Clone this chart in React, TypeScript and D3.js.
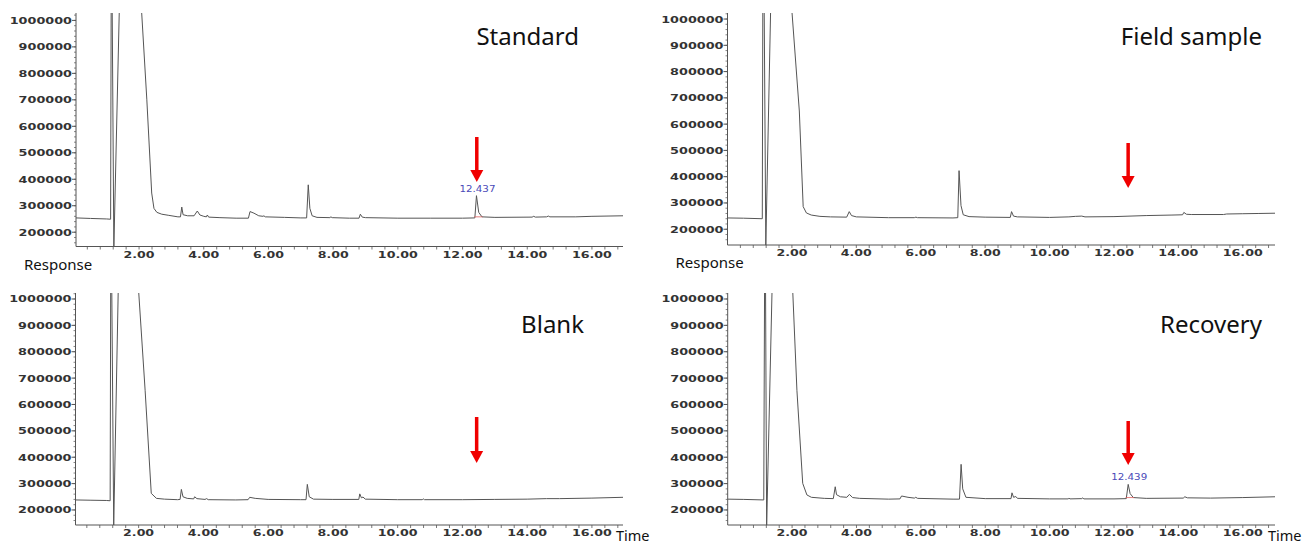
import React from 'react';
import * as d3 from 'd3';

type Pt = [number, number];

// Retention time (min), response
const standardTrace: Pt[] = [
  [0.05, 254000], [0.5, 252000], [1.0, 250000], [1.12, 249000], [1.14, 1200000], [1.16, 1200000],
  [1.22, 140000], [1.4, 1100000], [1.42, 1300000], [2.05, 1300000], [2.08, 1030000], [2.24, 700000],
  [2.39, 348000], [2.46, 290000], [2.55, 275000], [2.7, 268000], [2.9, 264000], [3.2, 258000],
  [3.28, 258000], [3.32, 295000], [3.36, 266000], [3.5, 262000], [3.7, 262000], [3.8, 280000],
  [3.88, 265000], [4.0, 260000], [4.08, 258000], [4.11, 265000], [4.15, 257000], [4.5, 255000],
  [5.0, 253000], [5.38, 253000], [5.43, 278000], [5.55, 272000], [5.7, 262000], [5.83, 260000],
  [5.86, 262000], [5.9, 258000], [6.5, 256000], [7.0, 254000], [7.18, 254000], [7.23, 379000],
  [7.28, 290000], [7.35, 262000], [7.5, 256000], [7.9, 255000], [7.93, 258000], [7.97, 255000],
  [8.5, 253000], [8.8, 253000], [8.84, 268000], [8.9, 257000], [9.0, 255000], [10.0, 253000],
  [11.0, 253000], [12.0, 253000], [12.38, 254000], [12.43, 338000], [12.5, 275000], [12.6, 258000],
  [13.0, 256000], [14.15, 257000], [14.2, 260000], [14.25, 257000], [14.6, 258000], [14.65, 261000],
  [14.7, 258000], [15.5, 258000], [16.0, 260000], [16.96, 262000],
];

const fieldTrace: Pt[] = [
  [0.0, 243000], [0.5, 242000], [1.08, 240000], [1.1, 1200000], [1.13, 1200000], [1.19, 140000],
  [1.35, 1100000], [1.37, 1300000], [1.97, 1300000], [2.0, 1030000], [2.23, 650000], [2.35, 286000],
  [2.45, 262000], [2.6, 254000], [2.87, 249000], [3.2, 247000], [3.7, 246000], [3.78, 267000],
  [3.85, 252000], [4.0, 247000], [5.0, 244000], [5.8, 244000], [5.85, 246000], [5.9, 244000],
  [7.0, 243000], [7.15, 244000], [7.19, 423000], [7.25, 290000], [7.32, 255000], [7.5, 248000],
  [8.0, 246000], [8.78, 245000], [8.82, 267000], [8.88, 250000], [9.0, 247000], [10.0, 245000],
  [10.6, 247000], [10.8, 249000], [11.0, 250000], [11.1, 247000], [12.0, 248000], [13.0, 252000],
  [13.8, 254000], [14.13, 255000], [14.17, 264000], [14.25, 257000], [14.4, 256000], [15.4, 256000],
  [15.5, 258000], [16.0, 259000], [16.5, 260000], [17.0, 261000],
];

const blankTrace: Pt[] = [
  [0.05, 238000], [0.5, 237000], [1.0, 236000], [1.12, 235000], [1.14, 1200000], [1.16, 1200000],
  [1.23, 140000], [1.38, 1100000], [1.4, 1300000], [1.97, 1300000], [2.0, 1030000], [2.2, 654000],
  [2.39, 263000], [2.55, 244000], [2.8, 241000], [3.2, 239000], [3.28, 240000], [3.32, 278000],
  [3.37, 250000], [3.5, 244000], [3.7, 242000], [3.73, 250000], [3.8, 243000], [4.05, 240000],
  [4.1, 243000], [4.15, 239000], [5.0, 238000], [5.38, 239000], [5.43, 248000], [5.6, 244000],
  [6.0, 240000], [7.0, 239000], [7.17, 239000], [7.21, 297000], [7.27, 250000], [7.4, 241000],
  [8.0, 240000], [8.8, 240000], [8.83, 261000], [8.88, 246000], [8.93, 249000], [9.0, 241000],
  [10.0, 239000], [10.76, 239000], [10.79, 242000], [10.83, 239000], [12.0, 239000], [13.0, 240000],
  [14.0, 241000], [14.6, 243000], [15.0, 243000], [16.0, 245000], [16.96, 248000],
];

const recoveryTrace: Pt[] = [
  [0.0, 241000], [0.5, 240000], [1.12, 238000], [1.15, 1200000], [1.17, 1200000], [1.21, 140000],
  [1.39, 1100000], [1.41, 1300000], [1.99, 1300000], [2.02, 1030000], [2.15, 654000], [2.33, 301000],
  [2.46, 257000], [2.6, 248000], [3.0, 244000], [3.28, 243000], [3.34, 288000], [3.38, 258000],
  [3.5, 250000], [3.7, 248000], [3.78, 259000], [3.88, 247000], [4.1, 244000], [5.0, 241000],
  [5.35, 242000], [5.4, 253000], [5.6, 248000], [5.8, 245000], [5.84, 248000], [5.9, 244000],
  [7.0, 241000], [7.2, 241000], [7.25, 373000], [7.3, 280000], [7.4, 248000], [8.0, 243000],
  [8.8, 243000], [8.83, 265000], [8.88, 248000], [8.95, 251000], [9.0, 244000], [10.0, 242000],
  [10.58, 242000], [10.6, 245000], [10.63, 242000], [11.0, 243000], [11.03, 246000], [11.06, 242000],
  [12.0, 242000], [12.38, 243000], [12.44, 297000], [12.5, 262000], [12.6, 247000], [13.0, 244000],
  [14.15, 245000], [14.2, 250000], [14.28, 246000], [15.0, 245000], [16.0, 247000], [17.0, 250000],
];

const yTickValues = [200000, 300000, 400000, 500000, 600000, 700000, 800000, 900000, 1000000];
const xTickLabels = [2, 4, 6, 8, 10, 12, 14, 16];
const panelTitles = ['Standard', 'Field sample', 'Blank', 'Recovery'];
const peakLabels = ['12.437', '', '', '12.439'];
const targetTime = 12.44;

type Panel = {
  data: Pt[]; title: string; peak: string;
  x0: number; x1: number; y0: number; y1: number;
  tMin: number; tMax: number; vMin: number; vMax: number;
  titleX: number; titleY: number; arrowTop: number; arrowTip: number;
  response: boolean; time: boolean;
};

const panels: Panel[] = [
  { data: standardTrace, title: panelTitles[0], peak: peakLabels[0], x0: 76, x1: 623, y0: 13, y1: 246.5,
    tMin: 0.05, tMax: 16.96, vMin: 146000, vMax: 1028000, titleX: 579, titleY: 45, arrowTop: 137, arrowTip: 182, response: true, time: false },
  { data: fieldTrace, title: panelTitles[1], peak: peakLabels[1], x0: 727.5, x1: 1275, y0: 13, y1: 245,
    tMin: 0, tMax: 17, vMin: 140000, vMax: 1023000, titleX: 1262, titleY: 45, arrowTop: 143, arrowTip: 188, response: true, time: false },
  { data: blankTrace, title: panelTitles[2], peak: peakLabels[2], x0: 75.5, x1: 623, y0: 293, y1: 525,
    tMin: 0.05, tMax: 16.96, vMin: 143000, vMax: 1022700, titleX: 584, titleY: 333, arrowTop: 417, arrowTip: 463, response: false, time: true },
  { data: recoveryTrace, title: panelTitles[3], peak: peakLabels[3], x0: 727.7, x1: 1275, y0: 293, y1: 525,
    tMin: 0, tMax: 17, vMin: 143000, vMax: 1022700, titleX: 1262, titleY: 333, arrowTop: 421, arrowTip: 465, response: false, time: true },
];

const axisColor = '#555';
const lineColor = '#555';
const labelFont = '"DejaVu Sans", sans-serif';
const titleFont = '"Noto Sans", "Open Sans", sans-serif';

function ChromPanel({ p, idx }: { p: Panel; idx: number }) {
  const x = d3.scaleLinear().domain([p.tMin, p.tMax]).range([p.x0, p.x1]);
  const y = d3.scaleLinear().domain([p.vMin, p.vMax]).range([p.y1, p.y0]);
  const line = d3.line<Pt>().x(d => x(d[0])).y(d => y(d[1]));
  const clipId = `clip-${idx}`;
  const minorX = d3.range(0.4, p.tMax + 0.001, 0.4).filter(t => t >= p.tMin);
  const minorY = d3.range(160000, p.vMax, 20000);
  const peakPts = p.data.filter(d => d[0] > 12.3 && d[0] < 12.6);
  const apex = peakPts.reduce((a, b) => (b[1] > a[1] ? b : a), peakPts[0] || [targetTime, 0]);
  const baseAfter = p.data.find(d => d[0] >= 12.6)?.[1] || 250000;
  const ax = x(targetTime);
  return (
    <g>
      <defs>
        <clipPath id={clipId}>
          <rect x={p.x0} y={p.y0} width={p.x1 - p.x0} height={p.y1 - p.y0} />
        </clipPath>
      </defs>
      <line x1={p.x0} x2={p.x0} y1={p.y0} y2={p.y1} stroke={axisColor} strokeWidth={1} />
      <line x1={p.x0} x2={p.x1} y1={p.y1} y2={p.y1} stroke={axisColor} strokeWidth={1} />
      {minorY.map(v => (
        <line key={'my' + v} x1={p.x0 - 2} x2={p.x0} y1={y(v)} y2={y(v)} stroke={axisColor} strokeWidth={0.7} />
      ))}
      {yTickValues.map(v => (
        <g key={'y' + v}>
          <line x1={p.x0 - 4} x2={p.x0} y1={y(v)} y2={y(v)} stroke={axisColor} strokeWidth={1} />
          <text x={p.x0 - 4} y={y(v) + 3.5} textAnchor="end" fontFamily={labelFont} fontWeight="bold"
            fontSize={9.5} fill="#333" textLength={String(v).length * 8.9} lengthAdjust="spacingAndGlyphs">
            {String(v)}
          </text>
        </g>
      ))}
      {minorX.map(t => (
        <line key={'mx' + t} x1={x(t)} x2={x(t)} y1={p.y1} y2={p.y1 + 3} stroke={axisColor} strokeWidth={0.8} />
      ))}
      {xTickLabels.map(t => {
        const s = t.toFixed(2);
        return (
          <text key={'x' + t} x={x(t)} y={p.y1 + 11} textAnchor="middle" fontFamily={labelFont} fontWeight="bold"
            fontSize={9.5} fill="#333" textLength={(s.length - 1) * 9 + 4} lengthAdjust="spacingAndGlyphs">
            {s}
          </text>
        );
      })}
      <path d={line(p.data) || ''} fill="none" stroke={lineColor} strokeWidth={1} clipPath={`url(#${clipId})`} />
      {p.peak && (
        <g>
          <line x1={x(12.36)} x2={x(12.62)} y1={y(baseAfter)} y2={y(baseAfter)} stroke="#e06060" strokeWidth={0.8} />
          <text x={x(apex[0]) + 1} y={y(apex[1]) - 4} textAnchor="middle" fontFamily={labelFont} fontSize={8}
            fill="#4a4ab8" textLength={36} lengthAdjust="spacingAndGlyphs">{p.peak}</text>
        </g>
      )}
      <line x1={ax} x2={ax} y1={p.arrowTop} y2={p.arrowTip - 10} stroke="#f00000" strokeWidth={3.5} />
      <path d={`M${ax - 6.5},${p.arrowTip - 12} L${ax + 6.5},${p.arrowTip - 12} L${ax},${p.arrowTip} Z`} fill="#f00000" />
      <text x={p.titleX} y={p.titleY} textAnchor="end" fontFamily={titleFont} fontSize={24} fill="#111">{p.title}</text>
      {p.response && (
        <text x={p.x0 - 52} y={p.y1 + 23} fontFamily={titleFont} fontSize={15} fill="#111">Response</text>
      )}
      {p.time && (
        <text x={p.x1 - 7} y={p.y1 + 16} fontFamily={titleFont} fontSize={14.5} fill="#111">Time</text>
      )}
    </g>
  );
}

export default function App() {
  return (
    <svg width={1308} height={543} style={{ position: 'absolute', left: 0, top: 0, background: '#fff' }}>
      <rect x={0} y={0} width={1308} height={543} fill="#fff" />
      {panels.map((p, i) => <ChromPanel key={i} p={p} idx={i} />)}
    </svg>
  );
}
